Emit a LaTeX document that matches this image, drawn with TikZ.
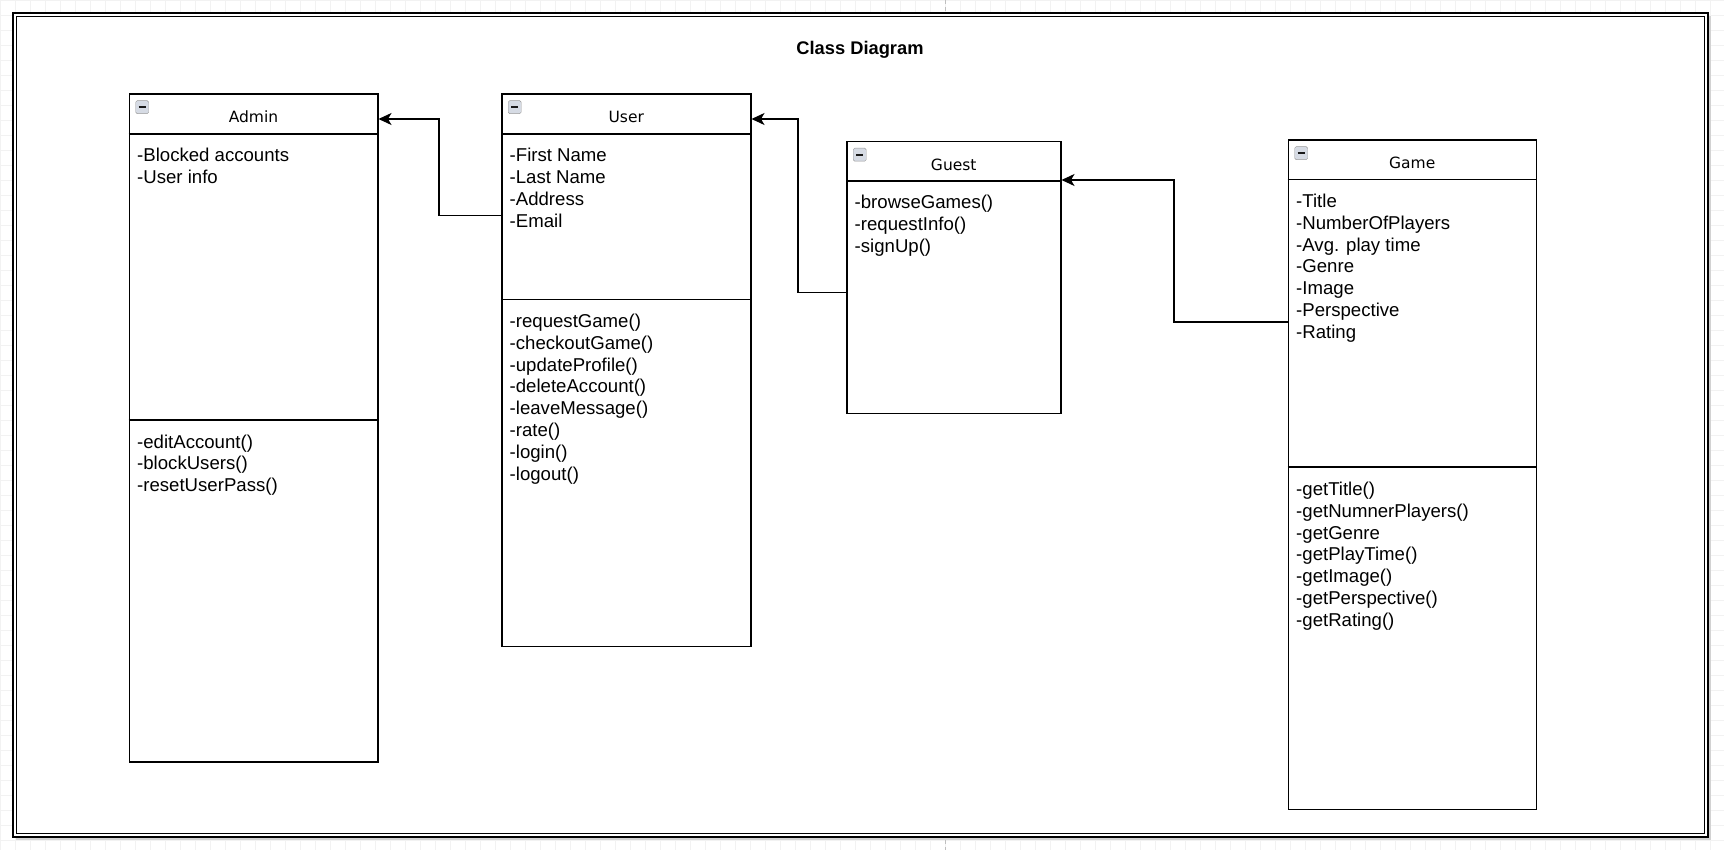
\documentclass[tikz,border=0pt]{standalone}
\usepackage{fontspec}
\setmainfont{Liberation Sans}
\newfontfamily\headfont{DejaVu Sans}
\usetikzlibrary{arrows.meta}
\definecolor{iconfill}{RGB}{214,219,228}

\begin{document}
\begin{tikzpicture}[x=1pt,y=-1pt,
    classbox/.style={draw, line width=1.5pt, fill=white, inner sep=0pt, anchor=north west},
    divline/.style={line width=1.6pt},
    headlabel/.style={font=\headfont\fontsize{15.5}{18}\selectfont, inner sep=0pt, anchor=base},
    member/.style={font=\fontsize{18.6}{21.8}\selectfont, inner sep=0pt, anchor=base west},
    minusicon/.style={draw=gray!80, fill=iconfill, minimum size=13pt, inner sep=0pt, anchor=north west, rounded corners=1.5pt},
    assoc/.style={line width=1.5pt, -{Stealth[length=13pt, width=12pt, inset=3.5pt]}}]
    \useasboundingbox (0,0) rectangle (1724,850);
    % canvas grid, page break and frame
    \draw[gray!10, step=15pt] (0,0) grid (1724,850);
    \draw[gray!50, dash pattern=on 4pt off 3pt] (945.5,0) -- (945.5,850);
    \fill[gray!35] (16,16) rectangle (1711,840);
    \draw[line width=1.2pt, fill=white] (13,13) rectangle (1708,837);
    \draw[line width=1.2pt] (16.5,16.5) rectangle (1704.5,833.5);
    \node[font=\bfseries\fontsize{18.3}{21}\selectfont, inner sep=0pt, anchor=base] (title) at (860,55) {Class Diagram};

    % Admin
    \node[classbox, minimum width=248.5pt, minimum height=667.5pt] (admin) at (128.5,93.5) {};
    \draw[divline] ([yshift=-40.5pt]admin.north west) -- ([yshift=-40.5pt]admin.north east);
    \draw[divline] ([yshift=-326.5pt]admin.north west) -- ([yshift=-326.5pt]admin.north east);
    \node[minusicon] (admin-i) at ([shift={(7,7)}]admin.north west) {};
    \draw[line width=1.8pt, gray!20!black] ([xshift=3pt]admin-i.west) -- ([xshift=-3pt]admin-i.east);
    \node[headlabel] (admin-t) at ([yshift=-29.5pt]admin.north) {Admin};
    \foreach \t [count=\i] in {-Blocked accounts, -User info}
        \node[member] (admin-a\i) at ([shift={(8.5,{68.5+21.8*(\i-1)})}]admin.north west) {\t};
    \foreach \t [count=\i] in {-editAccount(), -blockUsers(), -resetUserPass()}
        \node[member] (admin-m\i) at ([shift={(8.5,{354.5+21.8*(\i-1)})}]admin.north west) {\t};

    % User
    \node[classbox, minimum width=249pt, minimum height=552pt] (user) at (501,93.5) {};
    \draw[divline] ([yshift=-40.5pt]user.north west) -- ([yshift=-40.5pt]user.north east);
    \draw[divline] ([yshift=-206pt]user.north west) -- ([yshift=-206pt]user.north east);
    \node[minusicon] (user-i) at ([shift={(7,7)}]user.north west) {};
    \draw[line width=1.8pt, gray!20!black] ([xshift=3pt]user-i.west) -- ([xshift=-3pt]user-i.east);
    \node[headlabel] (user-t) at ([yshift=-29.5pt]user.north) {User};
    \foreach \t [count=\i] in {-First Name, -Last Name, -Address, -Email}
        \node[member] (user-a\i) at ([shift={(8.5,{68.5+21.8*(\i-1)})}]user.north west) {\t};
    \foreach \t [count=\i] in {-requestGame(), -checkoutGame(), -updateProfile(), -deleteAccount(), -leaveMessage(), -rate(), -login(), -logout()}
        \node[member] (user-m\i) at ([shift={(8.5,{234+21.8*(\i-1)})}]user.north west) {\t};

    % Guest
    \node[classbox, minimum width=214pt, minimum height=271.5pt] (guest) at (846,141) {};
    \draw[divline] ([yshift=-40pt]guest.north west) -- ([yshift=-40pt]guest.north east);
    \node[minusicon] (guest-i) at ([shift={(7,7)}]guest.north west) {};
    \draw[line width=1.8pt, gray!20!black] ([xshift=3pt]guest-i.west) -- ([xshift=-3pt]guest-i.east);
    \node[headlabel] (guest-t) at ([yshift=-29.5pt]guest.north) {Guest};
    \foreach \t [count=\i] in {-browseGames(), -requestInfo(), -signUp()}
        \node[member] (guest-m\i) at ([shift={(8.5,{68+21.8*(\i-1)})}]guest.north west) {\t};

    % Game
    \node[classbox, minimum width=248pt, minimum height=669pt] (game) at (1287.5,139.5) {};
    \draw[divline] ([yshift=-40pt]game.north west) -- ([yshift=-40pt]game.north east);
    \draw[divline] ([yshift=-327.5pt]game.north west) -- ([yshift=-327.5pt]game.north east);
    \node[minusicon] (game-i) at ([shift={(7,7)}]game.north west) {};
    \draw[line width=1.8pt, gray!20!black] ([xshift=3pt]game-i.west) -- ([xshift=-3pt]game-i.east);
    \node[headlabel] (game-t) at ([yshift=-29.5pt]game.north) {Game};
    \foreach \t [count=\i] in {-Title, -NumberOfPlayers, -Avg. play time, -Genre, -Image, -Perspective, -Rating}
        \node[member] (game-a\i) at ([shift={(8.5,{68+21.8*(\i-1)})}]game.north west) {\t};
    \foreach \t [count=\i] in {-getTitle(), -getNumnerPlayers(), -getGenre, -getPlayTime(), -getImage(), -getPerspective(), -getRating()}
        \node[member] (game-m\i) at ([shift={(8.5,{356+21.8*(\i-1)})}]game.north west) {\t};

    % associations
    \draw[assoc] ([yshift=-122pt]user.north west) -- ++(-62,0) |- ([yshift=-25.5pt]admin.north east);
    \draw[assoc] ([yshift=-151.5pt]guest.north west) -- ++(-48,0) |- ([yshift=-25.5pt]user.north east);
    \draw[assoc] ([yshift=-182.5pt]game.north west) -- ++(-113.5,0) |- ([yshift=-39pt]guest.north east);
\end{tikzpicture}
\end{document}
